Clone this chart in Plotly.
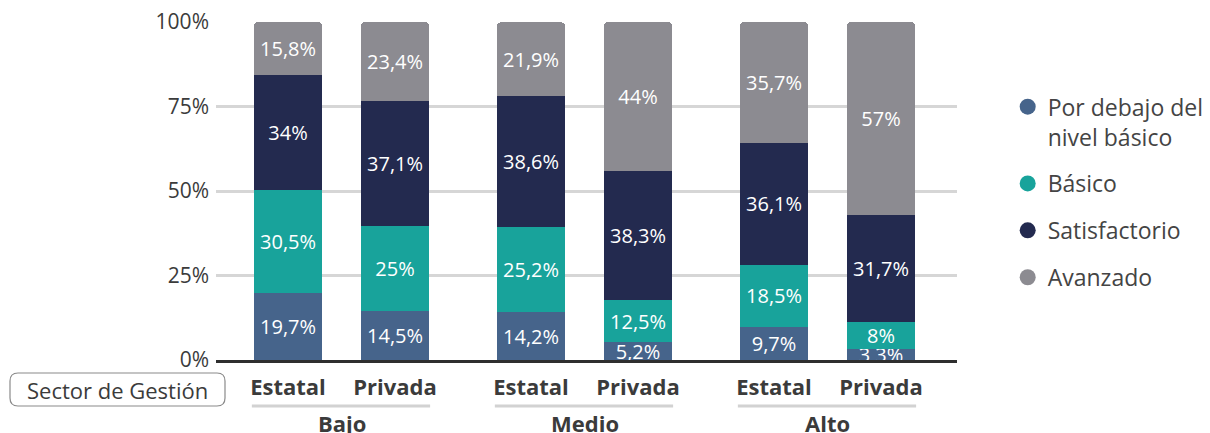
import plotly.graph_objects as go

# ---- data ----
groups = ["Bajo", "Medio", "Alto"]
sectors = ["Estatal", "Privada"]
series_names = ["Por debajo del<br>nivel básico", "Básico", "Satisfactorio", "Avanzado"]
por_debajo = [19.7, 14.5, 14.2, 5.2, 9.7, 3.3]
basico = [30.5, 25, 25.2, 12.5, 18.5, 8]
satisfactorio = [34, 37.1, 38.6, 38.3, 36.1, 31.7]
avanzado = [15.8, 23.4, 21.9, 44, 35.7, 57]
y_ticks = [0, 25, 50, 75, 100]
y_ticktext = ["0%", "25%", "50%", "75%", "100%"]
axis_title = "Sector de Gestión"

colors = ["#46648b", "#18a39b", "#232a4f", "#8c8b91"]
series = [por_debajo, basico, satisfactorio, avanzado]

# ---- layout helpers ----
PAIR_STEP = 1.0
GROUP_STEP = 2.271
BAR_W = 0.636
x_pos = [g * GROUP_STEP + s * PAIR_STEP for g in range(len(groups)) for s in range(len(sectors))]
x_ticktext = [sectors[s] for g in range(len(groups)) for s in range(len(sectors))]

FONT = "Open Sans"
TXT = "#3b3b3b"


def fmt(v):
    return f"{v:g}".replace(".", ",") + "%"


fig = go.Figure()
for name, vals, col in zip(series_names, series, colors):
    fig.add_trace(go.Bar(
        x=x_pos, y=vals, width=BAR_W, marker=dict(color=col, line=dict(width=0)),
        text=[fmt(v) for v in vals], textposition="inside", insidetextanchor="middle",
        constraintext="none", textangle=0,
        textfont=dict(family=FONT, size=20, color="white"),
        showlegend=False, hoverinfo="skip", cliponaxis=False,
    ))

# legend entries (circles)
for i, (name, col) in enumerate(zip(series_names, colors)):
    fig.add_trace(go.Scatter(
        x=[None], y=[None], mode="markers", name=name,
        marker=dict(color=col, size=18, symbol="circle"),
        legendgroup=f"g{i}", showlegend=True,
    ))

shapes = []
annotations = []
for g, gname in enumerate(groups):
    x0 = g * GROUP_STEP - BAR_W / 2 - 0.02
    x1 = g * GROUP_STEP + PAIR_STEP + BAR_W / 2 + 0.01
    shapes.append(dict(type="line", xref="x", yref="paper", x0=x0, x1=x1, y0=-0.136, y1=-0.136,
                       line=dict(color="#d2d2d2", width=3)))
    annotations.append(dict(xref="x", yref="paper", x=g * GROUP_STEP + PAIR_STEP / 2, y=-0.187,
                            text=f"<b>{gname}</b>", showarrow=False, yanchor="middle",
                            font=dict(family=FONT, size=22, color=TXT)))

# rounded box for "Sector de Gestión"
W, H, L, T = 741.0, 338.0, 216.0, 22.0
def px(x):
    return (x - L) / W
def py(y):
    return (T + H - y) / H
bx0, bx1, by0, by1, r = 10, 225, 373, 406, 8
path = (f"M {px(bx0 + r)},{py(by0)} L {px(bx1 - r)},{py(by0)} Q {px(bx1)},{py(by0)} {px(bx1)},{py(by0 + r)} "
        f"L {px(bx1)},{py(by1 - r)} Q {px(bx1)},{py(by1)} {px(bx1 - r)},{py(by1)} "
        f"L {px(bx0 + r)},{py(by1)} Q {px(bx0)},{py(by1)} {px(bx0)},{py(by1 - r)} "
        f"L {px(bx0)},{py(by0 + r)} Q {px(bx0)},{py(by0)} {px(bx0 + r)},{py(by0)} Z")
shapes.append(dict(type="path", xref="paper", yref="paper", path=path,
                   line=dict(color="#8a8a8a", width=1.2), fillcolor="rgba(0,0,0,0)"))
annotations.append(dict(xref="paper", yref="paper", x=px((bx0 + bx1) / 2), y=py((by0 + by1) / 2),
                        text=axis_title, showarrow=False, xanchor="center", yanchor="middle",
                        font=dict(family=FONT, size=22, color=TXT)))

fig.update_layout(
    width=1210, height=433,
    margin=dict(l=216, r=253, t=22, b=73, pad=0, autoexpand=False),
    paper_bgcolor="white", plot_bgcolor="white",
    barmode="stack", barcornerradius=4,
    font=dict(family=FONT, color=TXT),
    shapes=shapes, annotations=annotations,
    legend=dict(x=1.0684, xanchor="left", y=0.813, yanchor="top",
                font=dict(family=FONT, size=23, color="#444444"),
                tracegroupgap=14, valign="top", itemclick=False),
    xaxis=dict(range=[-0.673, 6.252], tickvals=x_pos, ticktext=[f"<b>{t}</b>" for t in x_ticktext],
               tickfont=dict(family=FONT, size=22, color=TXT), showgrid=False, zeroline=False,
               showline=True, linecolor="#2e2e2e", linewidth=3, ticks="", ticklabelstandoff=6),
    yaxis=dict(range=[0, 100], tickvals=y_ticks, ticktext=y_ticktext,
               tickfont=dict(family=FONT, size=21, color=TXT), showgrid=True,
               gridcolor="#d6d6d6", gridwidth=3, zeroline=False, showline=False,
               ticks="", ticklabelstandoff=6),
)

fig.write_html("out.html", config={"displayModeBar": False},
               post_script="document.body.style.margin='0px';")
